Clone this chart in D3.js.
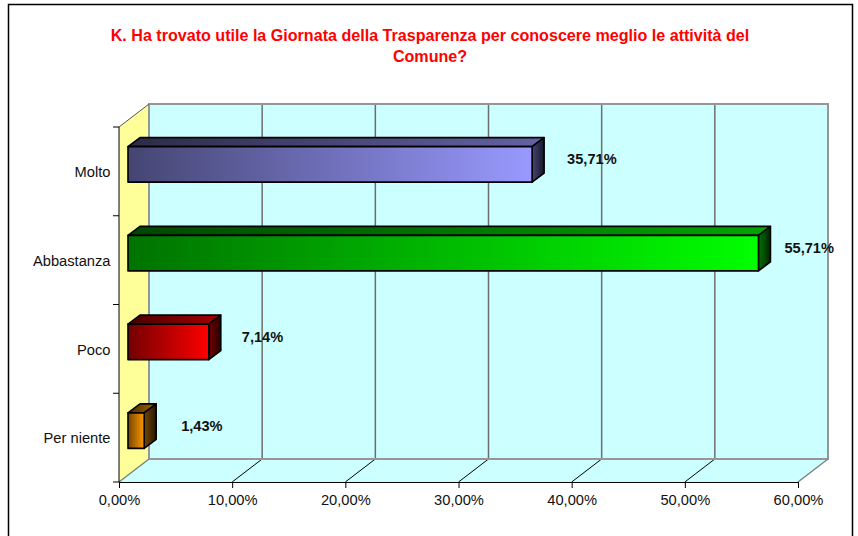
<!DOCTYPE html>
<html><head><meta charset="utf-8">
<script src="https://cdn.jsdelivr.net/npm/d3@7"></script>
<style>html,body{margin:0;padding:0;background:#fff}svg{display:block}text{font-family:"Liberation Sans",Arial,sans-serif}</style>
</head><body><div id="c"></div>
<script>
const categories = ["Molto","Abbastanza","Poco","Per niente"];
const values = [35.71,55.71,7.14,1.43];
const colors = ["#9999ff","#00ff00","#ff0000","#ff9900"];
const xTicks = [0,10,20,30,40,50,60];
const titleLines = ["K. Ha trovato utile la Giornata della Trasparenza per conoscere meglio le attività del","Comune?"];

const W=858,H=536, x0=119,x1=798, yTop=127,yBot=482, depthX=30,depthY=23, barDx=9,barDy=7,bx=12,by=9;
const labelDx=[44,35,42,46];
const x=d3.scaleLinear().domain([0,60]).range([x0,x1]);
const y=d3.scaleBand().domain(categories).range([yTop,yBot]).paddingInner(0.6).paddingOuter(0.3);
const fmt=v=>d3.format(".2f")(v).replace(".",",")+"%";

const svg=d3.select("#c").append("svg").attr("width",W).attr("height",H);
const defs=svg.append("defs");
const shade=(c,k)=>{const r=d3.rgb(c);return d3.rgb(r.r*k,r.g*k,r.b*k).formatHex();};
function grad(id,a,b){const g=defs.append("linearGradient").attr("id",id);
  g.append("stop").attr("offset","0%").attr("stop-color",a);
  g.append("stop").attr("offset","100%").attr("stop-color",b);}
colors.forEach((c,i)=>{
  grad("front"+i,shade(c,0.45),c);
  grad("top"+i,shade(c,0.28),shade(c,0.65));
  grad("side"+i,shade(c,0.45),shade(c,0.15));
});

svg.append("path").attr("d",`M8.5,540V4.5H852.5V540`).attr("fill","none").attr("stroke","#000").attr("stroke-width",1.5);

const title=svg.append("text").attr("text-anchor","middle")
  .attr("fill","#ff0000").attr("font-weight","bold").attr("font-size",16.1);
titleLines.forEach((t,i)=>title.append("tspan").attr("x",430).attr("y",41+i*21).text(t));

const line=d3.line();
const bw=x0+depthX, by0=yTop-depthY, by1=yBot-depthY, bxr=x1+depthX;
// walls and floor
svg.append("path").attr("d",line([[bw,by0],[bxr,by0],[bxr,by1],[bw,by1]])+"Z").attr("fill","#ccffff");
svg.append("path").attr("d",line([[x0,yBot],[x1,yBot],[bxr,by1],[bw,by1]])+"Z").attr("fill","#ccffff");
svg.append("path").attr("d",line([[x0,yTop],[bw,by0],[bw,by1],[x0,yBot]])+"Z").attr("fill","#ffff99");
// gridlines
const gridTicks=xTicks.slice(1,-1);
svg.selectAll(".grid").data(gridTicks).join("line").attr("class","grid")
  .attr("x1",d=>x(d)+depthX).attr("x2",d=>x(d)+depthX).attr("y1",by0).attr("y2",by1)
  .attr("stroke","#6e6e6e").attr("stroke-width",1.5);
svg.selectAll(".floor").data(gridTicks).join("line").attr("class","floor")
  .attr("x1",d=>x(d)).attr("x2",d=>x(d)+depthX).attr("y1",yBot).attr("y2",by1)
  .attr("stroke","#000").attr("stroke-width",1);
// wall outlines
svg.append("path").attr("fill","none").attr("stroke","#969696").attr("stroke-width",2)
  .attr("d",line([[bw,by1],[bw,by0],[bxr,by0],[bxr,by1],[bw,by1]]));
svg.append("path").attr("fill","none").attr("stroke","#808080").attr("stroke-width",1.5)
  .attr("d",line([[x0,yBot],[bw,by1]])+line([[bxr,by1],[x1,yBot]]));
svg.append("line").attr("x1",x0).attr("y1",yTop).attr("x2",bw).attr("y2",by0).attr("stroke","#555").attr("stroke-width",1);

// bars
const g=svg.selectAll(".bar").data(categories).join("g").attr("class","bar");
const px=(i)=>({l:x0+barDx,r:x(values[i])+barDx,t:y(categories[i])-barDy,b:y(categories[i])+y.bandwidth()-barDy});
g.append("path").attr("d",(d,i)=>{const p=px(i);return line([[p.l,p.t],[p.r,p.t],[p.r+bx,p.t-by],[p.l+bx,p.t-by]])+"Z";})
  .attr("fill",(d,i)=>`url(#top${i})`);
g.append("path").attr("d",(d,i)=>{const p=px(i);return line([[p.r,p.t],[p.r+bx,p.t-by],[p.r+bx,p.b-by],[p.r,p.b]])+"Z";})
  .attr("fill",(d,i)=>`url(#side${i})`);
g.append("rect").attr("x",(d,i)=>px(i).l).attr("y",(d,i)=>px(i).t)
  .attr("width",(d,i)=>px(i).r-px(i).l).attr("height",y.bandwidth()).attr("fill",(d,i)=>`url(#front${i})`);
g.selectAll("path,rect").attr("stroke","#000").attr("stroke-width",1.6).attr("stroke-linejoin","round");

// value labels
g.append("text").attr("x",(d,i)=>x(values[i])+labelDx[i]).attr("y",(d,i)=>y(categories[i])+y.bandwidth()/2-7)
  .attr("font-weight","bold").attr("font-size",14.6).attr("fill","#111").text((d,i)=>fmt(values[i]));

// axes
const ax=svg.append("g").attr("transform",`translate(0,${yBot})`)
  .call(d3.axisBottom(x).tickValues(xTicks).tickFormat(fmt).tickSize(6).tickPadding(7));
const ay=svg.append("g").attr("transform",`translate(${x0},0)`)
  .call(d3.axisLeft(y).tickSize(0).tickPadding(8.5));
ay.select(".domain").remove();
ay.selectAll(".tick").attr("transform",d=>`translate(0,${y(d)+y.bandwidth()/2+1})`);
const edges=[yTop,...categories.map((d,i)=>yTop+(yBot-yTop)*(i+1)/categories.length)];
svg.selectAll(".ytick").data(edges).join("line").attr("class","ytick")
  .attr("x1",x0-6).attr("x2",x0).attr("y1",d=>d).attr("y2",d=>d).attr("stroke","#000");
svg.append("line").attr("x1",x0).attr("x2",x0).attr("y1",yTop).attr("y2",yBot).attr("stroke","#000");
[ax,ay].forEach(a=>{a.selectAll("text").attr("font-size",14.7).attr("fill","#111").attr("font-family",'"Liberation Sans",Arial,sans-serif');
  a.selectAll("line,.domain").attr("stroke","#000");});
</script></body></html>
